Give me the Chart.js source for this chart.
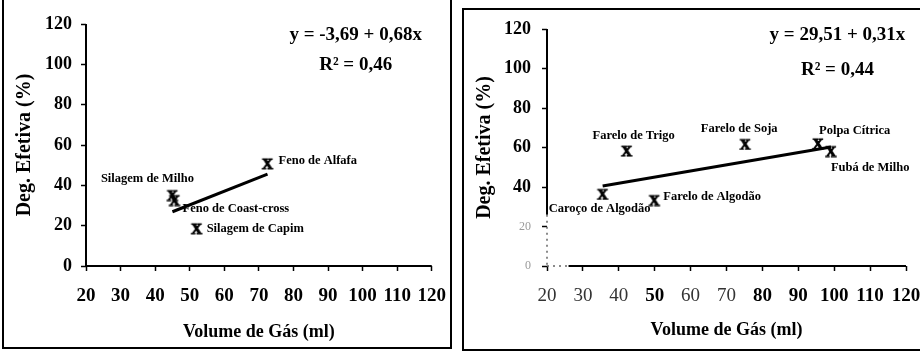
<!DOCTYPE html>
<html>
<head>
<meta charset="utf-8">
<script src="https://cdn.jsdelivr.net/npm/chart.js@4/dist/chart.umd.min.js"></script>
<style>
  html, body { margin: 0; padding: 0; background: #fff; overflow: hidden; width: 920px; height: 353px; }
  #wrap { position: relative; width: 920px; height: 353px; overflow: hidden; }
  canvas { position: absolute; top: 0; }
  #gasLeft { left: 0; }
  #gasRight { left: 460px; }
  .frame { position: absolute; border: 2px solid #000; box-sizing: border-box; pointer-events: none; }
  #frameLeft { left: 2px; top: -10px; width: 450px; height: 359px; }
  #frameRight { left: 462px; top: 8px; width: 480px; height: 343px; }
</style>
</head>
<body>
<div id="wrap">
  <canvas id="gasLeft" width="460" height="353"></canvas>
  <canvas id="gasRight" width="480" height="353"></canvas>
  <div class="frame" id="frameLeft"></div>
  <div class="frame" id="frameRight"></div>
</div>
<script>
// Axis ticks shared by both panels
const gasTicks = [20, 30, 40, 50, 60, 70, 80, 90, 100, 110, 120];
const degTicks = [0, 20, 40, 60, 80, 100, 120];

// Forages
const forageNames = ['Silagem de Milho', 'Feno de Coast-cross', 'Silagem de Capim', 'Feno de Alfafa'];
const forageGas = [45, 45.6, 52, 72.5];
const forageDeg = [35.2, 32.7, 18.7, 50.9];
const forageIntercept = -3.69;
const forageSlope = 0.68;
const forageR2 = 0.46;

// Concentrates
const concNames = ['Caroço de Algodão', 'Farelo de Trigo', 'Farelo de Algodão', 'Farelo de Soja', 'Polpa Cítrica', 'Fubá de Milho'];
const concGas = [35.5, 42.2, 49.9, 75.2, 95.5, 99.1];
const concDeg = [36.5, 58.4, 33.4, 61.8, 62.1, 58.2];
const concIntercept = 29.51;
const concSlope = 0.31;
const concR2 = 0.44;

const SERIF = '"Liberation Serif", "Times New Roman", serif';

const fmt = v => v.toFixed(2).replace('.', ',');
const equationText = (a, b) => 'y = ' + fmt(a) + ' + ' + fmt(b) + 'x';
const tickVal = c => (c && c.tick) ? c.tick.value : null;

// heavy serif "X" used as the point marker
function makeMarker() {
  const c = document.createElement('canvas');
  c.width = 14; c.height = 13;
  const g = c.getContext('2d');
  g.fillStyle = '#000';
  g.strokeStyle = '#000';
  g.lineWidth = 1.1;
  g.font = 'bold 15px ' + SERIF;
  g.textAlign = 'center';
  g.textBaseline = 'alphabetic';
  g.fillText('X', 7, 11.5);
  g.strokeText('X', 7, 11.5);
  return c;
}
const marker = makeMarker();

function buildPanel(canvasId, p) {
  const gMin = Math.min(...p.gas), gMax = Math.max(...p.gas);

  const labelsPlugin = {
    id: 'pointLabels',
    afterDatasetsDraw(chart) {
      const { ctx, scales: { x, y } } = chart;
      ctx.save();
      ctx.fillStyle = '#000';
      ctx.textBaseline = 'middle';
      ctx.font = 'bold 12.5px ' + SERIF;
      chart.getDatasetMeta(1).data.forEach((pt, i) => {
        ctx.textAlign = p.labelAlign[i];
        ctx.fillText(p.names[i], pt.x + p.labelOffset[i][0], pt.y + p.labelOffset[i][1]);
      });
      ctx.font = 'bold 19px ' + SERIF;
      ctx.textAlign = 'center';
      const ex = x.getPixelForValue(p.eqAt[0]);
      ctx.fillText(equationText(p.a, p.b), ex, y.getPixelForValue(p.eqAt[1]));
      ctx.fillText('R² = ' + fmt(p.r2), ex, y.getPixelForValue(p.eqAt[2]));
      ctx.restore();
    }
  };

  // axis lines, with an optional faint stretch near the origin
  const axesPlugin = {
    id: 'axisLines',
    afterDraw(chart) {
      const { ctx, scales: { x, y } } = chart;
      const x0 = x.getPixelForValue(20), x1 = x.getPixelForValue(120);
      const y0 = y.getPixelForValue(0), y1 = y.getPixelForValue(120);
      ctx.save();
      ctx.lineWidth = 2;
      ctx.strokeStyle = '#000';
      const seg = (ax, ay, bx, by, faint) => {
        ctx.save();
        if (faint) { ctx.setLineDash([2, 4]); ctx.strokeStyle = '#666'; ctx.lineWidth = 1.5; }
        ctx.beginPath(); ctx.moveTo(ax, ay); ctx.lineTo(bx, by); ctx.stroke();
        ctx.restore();
      };
      if (p.faintY !== null) {
        const yb = y.getPixelForValue(p.faintY);
        seg(x0, y1, x0, yb, false);
        seg(x0, yb, x0, y0, true);
      } else {
        seg(x0, y1, x0, y0, false);
      }
      if (p.faintX !== null) {
        const xb = x.getPixelForValue(p.faintX);
        seg(x0, y0, xb, y0, true);
        seg(xb, y0, x1, y0, false);
      } else {
        seg(x0, y0, x1, y0, false);
      }
      ctx.restore();
    }
  };

  const tickGrid = { display: true, drawOnChartArea: false, drawTicks: true, tickLength: 5, tickColor: '#000', tickWidth: 1.5 };

  return new Chart(document.getElementById(canvasId), {
    type: 'scatter',
    data: {
      datasets: [
        {
          type: 'line',
          data: [{ x: gMin, y: p.a + p.b * gMin }, { x: gMax, y: p.a + p.b * gMax }],
          borderColor: '#000',
          borderWidth: 3,
          pointRadius: 0,
          fill: false,
          tension: 0
        },
        {
          data: p.gas.map((g, i) => ({ x: g, y: p.deg[i] })),
          pointStyle: marker,
          pointRadius: 6,
          backgroundColor: '#000',
          borderColor: '#000'
        }
      ]
    },
    options: {
      responsive: false,
      animation: false,
      devicePixelRatio: 1,
      layout: { padding: p.pad },
      plugins: { legend: { display: false }, tooltip: { enabled: false } },
      scales: {
        x: {
          type: 'linear',
          min: 20, max: 120,
          afterBuildTicks: s => { s.ticks = gasTicks.map(v => ({ value: v })); },
          afterFit: s => { s.height = p.xH; },
          ticks: {
            autoSkip: false, maxRotation: 0, minRotation: 0, padding: 14,
            color: c => p.lightX.includes(tickVal(c)) ? '#333' : '#000',
            font: c => ({ family: SERIF, size: 19, weight: p.lightX.includes(tickVal(c)) ? 'normal' : 'bold' })
          },
          grid: tickGrid,
          border: { display: false },
          title: { display: true, text: 'Volume de Gás (ml)', color: '#000', font: { family: SERIF, size: 18, weight: 'bold' }, padding: { top: 0, bottom: p.xTitlePad } }
        },
        y: {
          type: 'linear',
          min: 0, max: 120,
          afterBuildTicks: s => { s.ticks = degTicks.map(v => ({ value: v })); },
          afterFit: s => { s.width = p.yW; },
          ticks: {
            padding: p.yTickPad,
            color: c => p.lightY.includes(tickVal(c)) ? '#9a9a9a' : '#000',
            font: c => p.lightY.includes(tickVal(c))
              ? { family: SERIF, size: 12, weight: 'normal' }
              : { family: SERIF, size: 18, weight: 'bold' }
          },
          grid: tickGrid,
          border: { display: false },
          title: { display: true, text: 'Deg. Efetiva (%)', color: '#000', font: { family: SERIF, size: 20, weight: 'bold' }, padding: { top: 13, bottom: 0 } }
        }
      }
    },
    plugins: [axesPlugin, labelsPlugin]
  });
}

buildPanel('gasLeft', {
  names: forageNames, gas: forageGas, deg: forageDeg,
  a: forageIntercept, b: forageSlope, r2: forageR2,
  eqAt: [98, 114.5, 99.7],
  labelAlign: ['center', 'left', 'left', 'left'],
  labelOffset: [[-25, -16], [8, 9], [10, 0], [11, -3]],
  pad: { top: 24, right: 27, left: 0, bottom: 0 },
  yW: 86, xH: 87, yTickPad: 9, xTitlePad: 10,
  lightX: [], lightY: [],
  faintX: null, faintY: null
});

buildPanel('gasRight', {
  names: concNames, gas: concGas, deg: concDeg,
  a: concIntercept, b: concSlope, r2: concR2,
  eqAt: [100.9, 117, 99.2],
  labelAlign: ['center', 'center', 'left', 'center', 'left', 'left'],
  labelOffset: [[-3, 15], [7, -15], [9, -3], [-6, -15], [1, -13], [0, 17]],
  pad: { top: 29, right: 34, left: 0, bottom: 0 },
  yW: 87, xH: 87, yTickPad: 11, xTitlePad: 12,
  lightX: [20, 30, 40, 60, 70], lightY: [0, 20],
  faintX: 26, faintY: 26
});
</script>
</body>
</html>
